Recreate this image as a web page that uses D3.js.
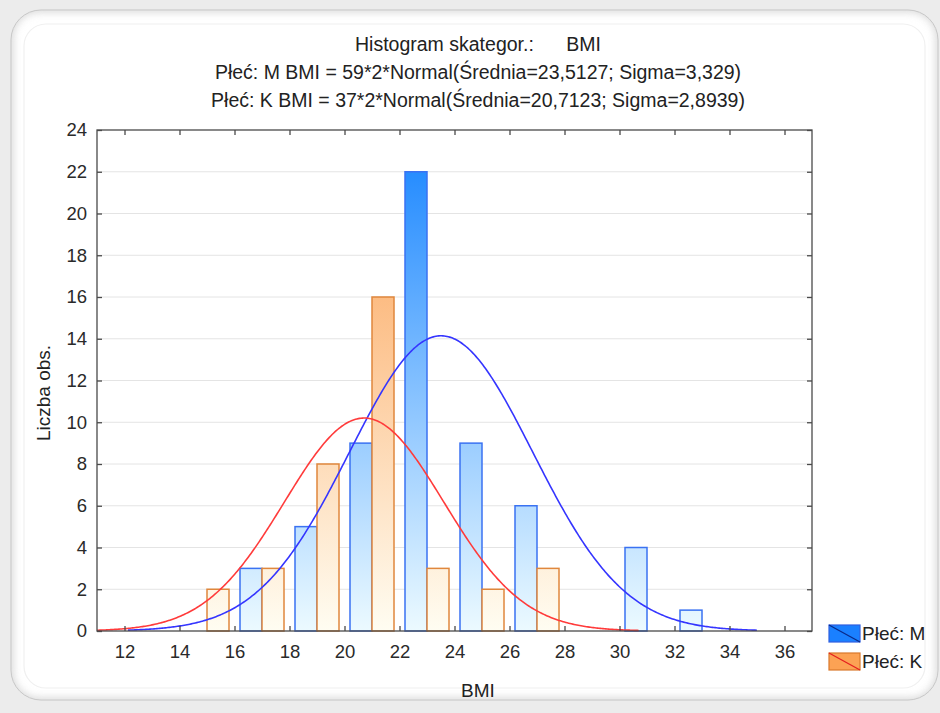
<!DOCTYPE html>
<html>
<head>
<meta charset="utf-8">
<script src="https://cdn.jsdelivr.net/npm/d3@7"></script>
<style>
  html, body { margin: 0; padding: 0; background: #ececec; }
  svg { display: block; font-family: "Liberation Sans", Arial, sans-serif; }
</style>
</head>
<body>
<svg id="chart" width="940" height="713"></svg>
<script>
// Histogram bins (lower edge of each 2-unit BMI class)
const binStarts = [14, 16, 18, 20, 22, 24, 26, 28, 30, 32];
const countsM   = [0, 3, 5, 9, 22, 9, 6, 0, 4, 1];
const countsK   = [2, 3, 8, 16, 3, 2, 3, 0, 0, 0];

// Fitted normal curves, as given in the header
const groups = ["M", "K"];
const groupN = [59, 37];
const groupMean = [23.5127, 20.7123];
const groupSigma = [3.329, 2.8939];
const binWidth = 2;

const xTicks = [12, 14, 16, 18, 20, 22, 24, 26, 28, 30, 32, 34, 36];
const yTicks = [0, 2, 4, 6, 8, 10, 12, 14, 16, 18, 20, 22, 24];

const titleLines = [
  "Histogram skategor.:      BMI",
  "Płeć: M BMI = 59*2*Normal(Średnia=23,5127; Sigma=3,329)",
  "Płeć: K BMI = 37*2*Normal(Średnia=20,7123; Sigma=2,8939)"
];
const legendLabels = ["Płeć: M", "Płeć: K"];

const svg = d3.select("#chart");
const W = 940, H = 713;
const defs = svg.append("defs");

// ---- card background ----
const card = { x: 11, y: 10, w: 927, h: 690, r: 30 };
defs.append("filter").attr("id", "soft").attr("x", "-10%").attr("y", "-10%")
  .attr("width", "120%").attr("height", "120%")
  .append("feGaussianBlur").attr("stdDeviation", 4);
defs.append("clipPath").attr("id", "cardClip")
  .append("rect").attr("x", card.x).attr("y", card.y).attr("width", card.w).attr("height", card.h).attr("rx", card.r);

svg.append("rect").attr("width", W).attr("height", H).attr("fill", "#ececec");
svg.append("rect").attr("x", card.x).attr("y", card.y).attr("width", card.w).attr("height", card.h)
  .attr("rx", card.r).attr("fill", "#ffffff").attr("stroke", "#c4c4c4").attr("stroke-width", 1);
svg.append("g").attr("clip-path", "url(#cardClip)")
  .append("rect").attr("x", card.x - 2).attr("y", card.y - 2).attr("width", card.w + 4).attr("height", card.h + 4)
  .attr("rx", card.r).attr("fill", "none").attr("stroke", "#cfcfcf").attr("stroke-width", 7)
  .attr("filter", "url(#soft)");
svg.append("rect").attr("x", card.x + 13).attr("y", card.y + 14).attr("width", card.w - 26).attr("height", card.h - 26)
  .attr("rx", 22).attr("fill", "none").attr("stroke", "#f0f0f0").attr("stroke-width", 1.2);

// ---- plot geometry ----
const plot = { left: 97, right: 812, top: 130, bottom: 631 };
const x = d3.scaleLinear().domain([11, 37]).range([plot.left, plot.right]);
const y = d3.scaleLinear().domain([0, 24]).range([plot.bottom, plot.top]);

// vertical gradients spanning the whole plot height
function grad(id, top, bottom) {
  const g = defs.append("linearGradient").attr("id", id)
    .attr("gradientUnits", "userSpaceOnUse")
    .attr("x1", 0).attr("x2", 0).attr("y1", plot.top).attr("y2", plot.bottom);
  g.append("stop").attr("offset", 0).attr("stop-color", top);
  g.append("stop").attr("offset", 1).attr("stop-color", bottom);
}
grad("gM", "#1583ff", "#ecfaff");
grad("gK", "#fb9c4c", "#fffdf2");

// gridlines
svg.append("g").selectAll("line").data(yTicks.filter(d => d > 0 && d < 24)).join("line")
  .attr("x1", plot.left).attr("x2", plot.right)
  .attr("y1", d => y(d)).attr("y2", d => y(d))
  .attr("stroke", "#e4e4e4").attr("stroke-width", 1);

// bars: each bin holds M (left half) and K (right half)
const barData = [];
binStarts.forEach((b, i) => {
  barData.push({ g: "M", x0: b + 0.2, x1: b + 1.0, v: countsM[i] });
  barData.push({ g: "K", x0: b + 1.0, x1: b + 1.8, v: countsK[i] });
});
svg.append("g").selectAll("rect").data(barData.filter(d => d.v > 0)).join("rect")
  .attr("x", d => x(d.x0)).attr("width", d => x(d.x1) - x(d.x0))
  .attr("y", d => y(d.v)).attr("height", d => y(0) - y(d.v))
  .attr("fill", d => d.g === "M" ? "url(#gM)" : "url(#gK)")
  .attr("stroke", d => d.g === "M" ? "#3a72f2" : "#e0873c")
  .attr("stroke-width", 1.5);

// fitted normal curves
const curveColors = ["#3535ff", "#ff3b3b"];
const line = d3.line().x(d => x(d[0])).y(d => y(d[1]));
groups.forEach((g, i) => {
  const m = groupMean[i], s = groupSigma[i], k = groupN[i] * binWidth;
  const lo = Math.max(11, m - 3.42 * s), hi = Math.min(37, m + 3.45 * s);
  const pts = d3.range(lo, hi, 0.05).concat([hi]).map(v =>
    [v, k * Math.exp(-0.5 * ((v - m) / s) ** 2) / (s * Math.sqrt(2 * Math.PI))]);
  svg.append("path").datum(pts).attr("d", line)
    .attr("fill", "none").attr("stroke", curveColors[i]).attr("stroke-width", 1.6);
});

// frame and inward ticks
svg.append("rect").attr("x", plot.left).attr("y", plot.top)
  .attr("width", plot.right - plot.left).attr("height", plot.bottom - plot.top)
  .attr("fill", "none").attr("stroke", "#4a4a4a").attr("stroke-width", 1.3);

const axB = svg.append("g").attr("transform", `translate(0,${plot.bottom})`)
  .call(d3.axisBottom(x).tickValues(xTicks).tickSize(-5).tickPadding(14));
const axT = svg.append("g").attr("transform", `translate(0,${plot.top})`)
  .call(d3.axisTop(x).tickValues(xTicks).tickSize(-5).tickFormat(""));
const axL = svg.append("g").attr("transform", `translate(${plot.left},0)`)
  .call(d3.axisLeft(y).tickValues(yTicks).tickSize(-5).tickPadding(10));
const axR = svg.append("g").attr("transform", `translate(${plot.right},0)`)
  .call(d3.axisRight(y).tickValues(yTicks).tickSize(-5).tickFormat(""));
[axB, axT, axL, axR].forEach(a => {
  a.select(".domain").remove();
  a.selectAll(".tick line").attr("stroke", "#4a4a4a").attr("stroke-width", 1.3);
  a.selectAll(".tick text").attr("fill", "#2a2a2a").attr("font-size", 18.5)
    .attr("font-family", "'Liberation Sans', Arial, sans-serif");
});

// titles
svg.append("g").selectAll("text").data(titleLines).join("text")
  .attr("x", 478).attr("y", (d, i) => 51 + i * 28)
  .attr("text-anchor", "middle").attr("font-size", 19.5).attr("fill", "#222")
  .attr("xml:space", "preserve").style("white-space", "pre")
  .text(d => d);

// axis titles
svg.append("text").attr("x", 478).attr("y", 697).attr("text-anchor", "middle")
  .attr("font-size", 19).attr("fill", "#222").text("BMI");
svg.append("text").attr("transform", "translate(50,393) rotate(-90)")
  .attr("text-anchor", "middle").attr("font-size", 19).attr("fill", "#222").text("Liczba obs.");

// legend
const legFill = ["#1a80ff", "#fca254"];
const legStroke = ["#2f5fe0", "#d9782c"];
const legDiag = ["#0a2a8a", "#e52020"];
const leg = svg.append("g").selectAll("g").data(legendLabels).join("g")
  .attr("transform", (d, i) => `translate(829,${625 + i * 28})`);
leg.append("rect").attr("width", 31).attr("height", 17)
  .attr("fill", (d, i) => legFill[i]).attr("stroke", (d, i) => legStroke[i]).attr("stroke-width", 1.2);
leg.append("line").attr("x1", 0).attr("y1", 0).attr("x2", 31).attr("y2", 17)
  .attr("stroke", (d, i) => legDiag[i]).attr("stroke-width", 1.3);
leg.append("text").attr("x", 33).attr("y", 15).attr("font-size", 19).attr("fill", "#222").text(d => d);
</script>
</body>
</html>
